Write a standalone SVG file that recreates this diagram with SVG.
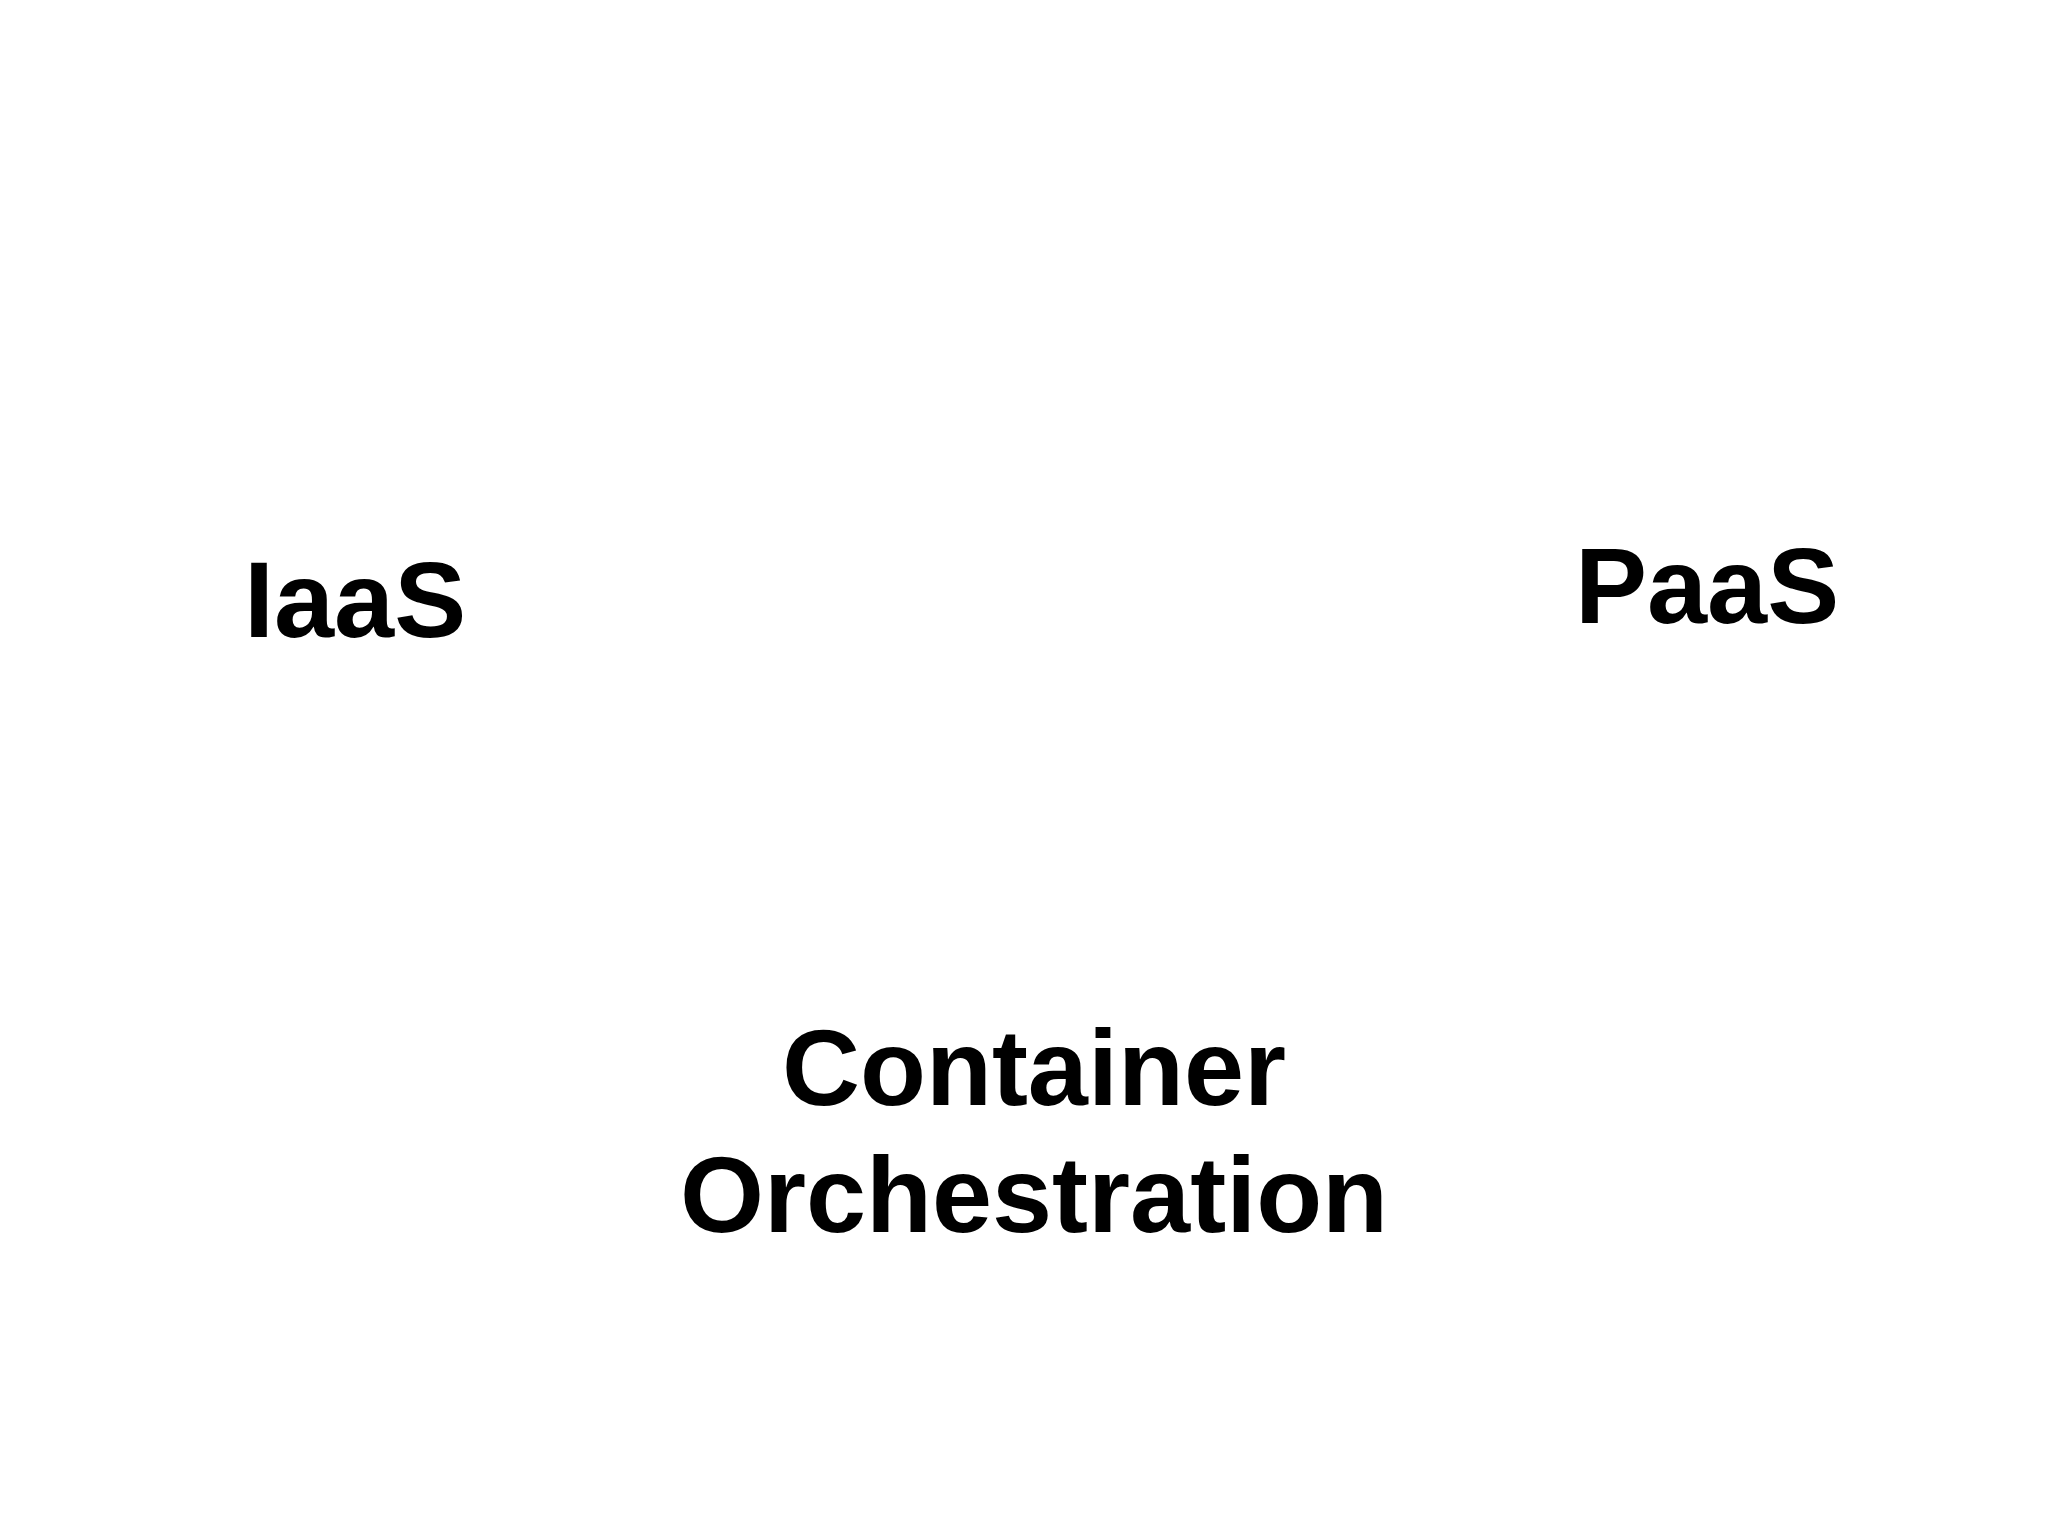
<svg xmlns="http://www.w3.org/2000/svg" width="2048" height="1535" viewBox="0 0 2048 1535">
<style>
.t{font-family:"Liberation Sans",Arial,sans-serif;font-weight:bold;font-size:108px;fill:#000}
</style>
<rect width="2048" height="1535" fill="#fff"/>
<g id="iaas"><text class="t" x="244" y="637">IaaS</text></g>
<g id="paas"><text class="t" x="1575" y="623">PaaS</text></g>
<g id="container-orchestration"><text class="t" x="1034" y="1105" text-anchor="middle">Container</text><text class="t" x="1034" y="1232" text-anchor="middle">Orchestration</text></g>
<g id="connectors"></g>
</svg>
